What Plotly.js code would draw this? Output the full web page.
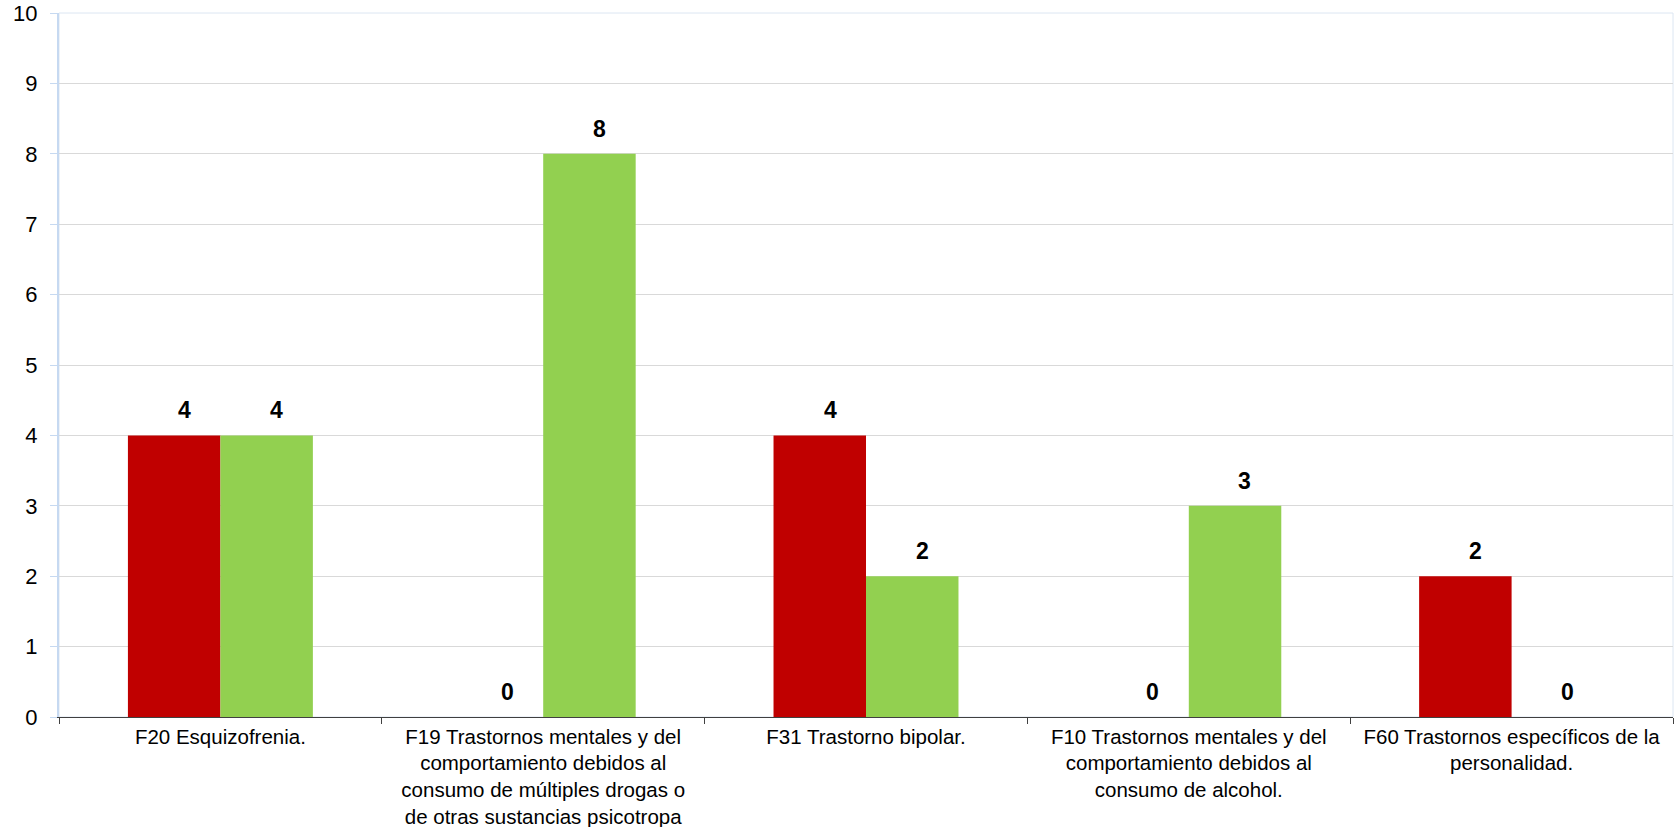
<!DOCTYPE html>
<html><head><meta charset="utf-8">
<script src="https://cdn.plot.ly/plotly-3.0.1.min.js"></script>
<style>html,body{margin:0;padding:0;background:#fff}#chart{width:1680px;height:827px}</style>
</head><body><div id="chart"></div>
<script>
const categories = [
  "F20 Esquizofrenia.",
  "F19 Trastornos mentales y del<br>comportamiento debidos al<br>consumo de múltiples drogas o<br>de otras sustancias psicotropa",
  "F31 Trastorno bipolar.",
  "F10 Trastornos mentales y del<br>comportamiento debidos al<br>consumo de alcohol.",
  "F60 Trastornos específicos de la<br>personalidad."
];
const seriesRed = [4, 0, 4, 0, 2];
const seriesGreen = [4, 8, 2, 3, 0];
const yTicks = [0,1,2,3,4,5,6,7,8,9,10];

const font = "Liberation Sans, Arial, sans-serif";
const traces = [
  {type:'bar', x:categories, y:seriesRed, marker:{color:'#C00000'}, name:'A', hoverinfo:'none'},
  {type:'bar', x:categories, y:seriesGreen, marker:{color:'#92D050'}, name:'B', hoverinfo:'none'}
];
const annotations = [];
[[seriesRed,-36],[seriesGreen,56]].forEach(([vals,dx])=>{
  vals.forEach((v,i)=>{
    annotations.push({x:categories[i], y:v, xref:'x', yref:'y', text:'<b>'+v+'</b>', showarrow:false,
      xanchor:'center', yanchor:'middle', xshift:dx, yshift:25,
      font:{family:font, size:23, color:'#000'}});
  });
});
const layout = {
  width:1680, height:827,
  margin:{l:59, r:7, t:13, b:110},
  paper_bgcolor:'#fff', plot_bgcolor:'#fff',
  showlegend:false,
  barmode:'group', bargap:0.427, bargroupgap:0,
  font:{family:font, color:'#000'},
  xaxis:{type:'category', showline:true, linecolor:'#404040', linewidth:1,
    ticks:'outside', tickson:'boundaries', ticklen:6, tickcolor:'#404040',
    tickfont:{family:font, size:20.5, color:'#000'}, ticklabelstandoff:1, showgrid:false, automargin:false},
  yaxis:{range:[0,10], tickvals:yTicks, showline:true, linecolor:'#c6d9f1', linewidth:2,
    ticks:'outside', ticklen:7, tickcolor:'#c6d9f1', gridcolor:'#d9d9d9', gridwidth:1,
    zeroline:false, tickfont:{family:font, size:22, color:'#000'}, ticklabelstandoff:8, automargin:false},
  shapes:[{type:'rect', xref:'paper', yref:'paper', x0:0, x1:1, y0:0, y1:1,
    line:{color:'#dce6f2', width:1}, layer:'below'}],
  annotations:annotations
};
Plotly.newPlot('chart', traces, layout, {staticPlot:true});
</script></body></html>
